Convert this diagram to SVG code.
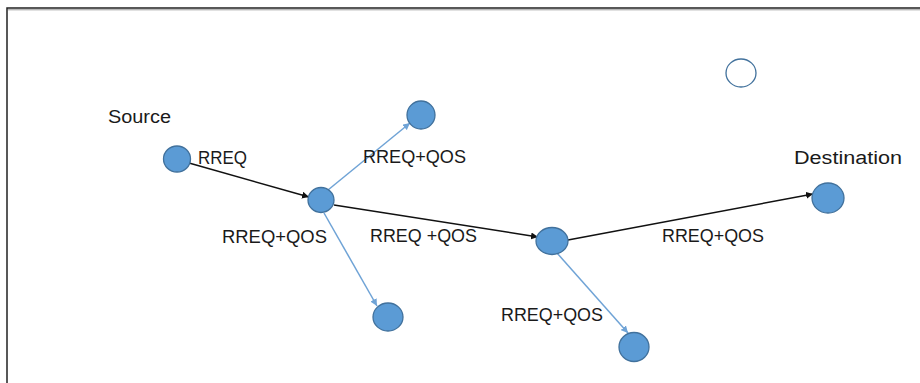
<svg xmlns="http://www.w3.org/2000/svg" width="920" height="383" viewBox="0 0 920 383">
  <style>
    .node { fill: #5B9BD5; stroke: #41719C; stroke-width: 1.3; }
    .hollow { fill: #ffffff; stroke: #41719C; stroke-width: 1.3; }
    .lbl { font-family: "Liberation Sans", Arial, sans-serif; font-size: 18px; fill: #1a1a1a; }
    .main { stroke: #111111; stroke-width: 1.5; fill: none; marker-end: url(#arrowBlack); }
    .side { stroke: #6FA3D6; stroke-width: 1.5; fill: none; marker-end: url(#arrowBlue); }
  </style>
  <defs>
    <marker id="arrowBlack" viewBox="0 0 10 10" refX="10" refY="5" markerWidth="7" markerHeight="7" markerUnits="userSpaceOnUse" orient="auto">
      <path d="M0,0 L10,5 L0,10 z" fill="#111111"/>
    </marker>
    <marker id="arrowBlue" viewBox="0 0 10 10" refX="10" refY="5" markerWidth="7" markerHeight="7" markerUnits="userSpaceOnUse" orient="auto">
      <path d="M0,0 L10,5 L0,10 z" fill="#6FA3D6"/>
    </marker>
  </defs>

  <rect width="920" height="383" fill="#ffffff"/>
  <!-- frame -->
  <path d="M7,383 V8 H920" fill="none" stroke="#222222" stroke-width="1.5"/>
  <line x1="8" y1="9.8" x2="920" y2="9.8" stroke="#9a9a9a" stroke-width="1"/>

  <!-- connectors -->
  <g id="connectors">
    <line class="main" x1="189" y1="163" x2="309" y2="197"/>
    <line class="main" x1="334" y1="205" x2="538" y2="237"/>
    <line class="main" x1="568" y1="240" x2="813" y2="194"/>
    <line class="side" x1="328" y1="190" x2="410" y2="123"/>
    <line class="side" x1="324" y1="213" x2="377" y2="306"/>
    <line class="side" x1="557" y1="253" x2="628" y2="333"/>
  </g>

  <!-- nodes -->
  <g id="source">
    <ellipse class="node" cx="177" cy="159" rx="13.5" ry="13"/>
    <text class="lbl" x="108" y="123" textLength="63" lengthAdjust="spacingAndGlyphs">Source</text>
  </g>
  <g id="relay1">
    <ellipse class="node" cx="321" cy="200" rx="13" ry="12.5"/>
  </g>
  <g id="relay2">
    <ellipse class="node" cx="552" cy="241" rx="16" ry="13.5"/>
  </g>
  <g id="destination">
    <ellipse class="node" cx="828" cy="198" rx="16" ry="15"/>
    <text class="lbl" x="794" y="164" textLength="108" lengthAdjust="spacingAndGlyphs">Destination</text>
  </g>
  <g id="neighbourTop">
    <ellipse class="node" cx="421" cy="115" rx="14" ry="14"/>
  </g>
  <g id="neighbourBottom">
    <ellipse class="node" cx="388" cy="317" rx="15" ry="14"/>
  </g>
  <g id="neighbourRight">
    <ellipse class="node" cx="634" cy="347" rx="15" ry="14.5"/>
  </g>
  <g id="idleNode">
    <ellipse class="hollow" cx="741" cy="73" rx="15" ry="14"/>
  </g>

  <!-- message labels -->
  <g id="labels">
    <text class="lbl" x="198" y="164" textLength="49" lengthAdjust="spacingAndGlyphs">RREQ</text>
    <text class="lbl" x="363" y="163" textLength="103" lengthAdjust="spacingAndGlyphs">RREQ+QOS</text>
    <text class="lbl" x="222" y="243" textLength="105" lengthAdjust="spacingAndGlyphs">RREQ+QOS</text>
    <text class="lbl" x="370" y="242" textLength="107" lengthAdjust="spacingAndGlyphs">RREQ +QOS</text>
    <text class="lbl" x="662" y="242" textLength="102" lengthAdjust="spacingAndGlyphs">RREQ+QOS</text>
    <text class="lbl" x="501" y="321" textLength="102" lengthAdjust="spacingAndGlyphs">RREQ+QOS</text>
  </g>
</svg>
